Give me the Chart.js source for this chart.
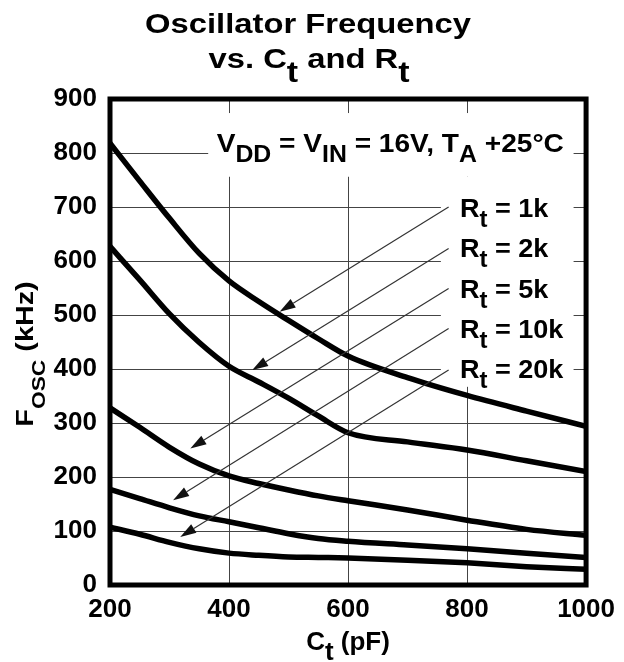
<!DOCTYPE html>
<html>
<head>
<meta charset="utf-8">
<script src="https://cdn.jsdelivr.net/npm/chart.js@4.4.1/dist/chart.umd.min.js"></script>
<style>
  body { margin: 0; background: #fff; }
  #wrap { width: 624px; height: 662px; }
</style>
</head>
<body>
<div id="wrap"><canvas id="oscChart" width="624" height="662"></canvas></div>
<script>
var capPF = [200, 250, 300, 350, 400, 450, 500, 550, 600, 700, 800, 900, 1000];

// Fosc (kHz) for each Rt
var rt1k  = [818, 748, 679, 614, 563, 525, 490, 456, 424, 384, 351, 322, 294];
var rt2k  = [627, 565, 502, 449, 405, 376, 346, 313, 282, 265, 250, 230, 210];
var rt5k  = [328, 292, 255, 224, 202, 188, 176, 165, 156, 139, 120, 103, 92];
var rt10k = [177, 160, 143, 128, 117, 106, 95, 86, 81, 74, 67, 59, 51];
var rt20k = [107, 94, 79, 67, 59, 55, 52, 51, 50, 46, 41, 34, 29];

var rtLabels = ['1k', '2k', '5k', '10k', '20k'];

// axis ticks
var xTicks = [200, 400, 600, 800, 1000];
var yTicks = [0, 100, 200, 300, 400, 500, 600, 700, 800, 900];

var FONT = '"Liberation Sans", Arial, sans-serif';

function toPoints(ys) {
    return ys.map(function(v, i) { return { x: capPF[i], y: v }; });
}

function richWidth(ctx, segs, o) {
    var w = 0;
    segs.forEach(function(s) {
        ctx.font = 'bold ' + (s.sub ? o.sub : o.size) + 'px ' + FONT;
        w += ctx.measureText(s.t).width;
    });
    return w;
}

// text with subscripts, optional stretch and rotation
function drawRich(ctx, segs, x, y, o) {
    ctx.save();
    ctx.translate(x, y);
    if (o.rot) ctx.rotate(o.rot);
    ctx.scale(o.sx || 1, 1);
    ctx.fillStyle = '#000';
    ctx.textBaseline = 'alphabetic';
    ctx.textAlign = 'left';
    var cx = o.align === 'center' ? -richWidth(ctx, segs, o) / 2 : 0;
    segs.forEach(function(s) {
        ctx.font = 'bold ' + (s.sub ? o.sub : o.size) + 'px ' + FONT;
        ctx.fillText(s.t, cx, s.sub ? o.dy : 0);
        cx += ctx.measureText(s.t).width;
    });
    ctx.restore();
}

function arrow(ctx, x1, y1, x2, y2) {
    var ang = Math.atan2(y2 - y1, x2 - x1);
    var len = 16, half = 5;
    var bx = x2 - len * Math.cos(ang), by = y2 - len * Math.sin(ang);
    ctx.save();
    ctx.strokeStyle = '#333';
    ctx.fillStyle = '#111';
    ctx.lineWidth = 1.2;
    ctx.beginPath();
    ctx.moveTo(x1, y1);
    ctx.lineTo(bx, by);
    ctx.stroke();
    ctx.beginPath();
    ctx.moveTo(x2, y2);
    ctx.lineTo(bx + half * Math.sin(ang), by - half * Math.cos(ang));
    ctx.lineTo(bx - half * Math.sin(ang), by + half * Math.cos(ang));
    ctx.closePath();
    ctx.fill();
    ctx.restore();
}

var decorPlugin = {
    id: 'decor',
    beforeDatasetsDraw: function(chart) {
        var ctx = chart.ctx, xs = chart.scales.x, ys = chart.scales.y;
        ctx.save();
        ctx.fillStyle = '#fff';
        // white boxes behind the notes (they break the grid lines)
        var b1 = [365, 979, 874, 756];
        var b2 = [756, 979, 756, 367];
        [b1, b2].forEach(function(b) {
            var l = xs.getPixelForValue(b[0]), r = xs.getPixelForValue(b[1]);
            var t = ys.getPixelForValue(b[2]), bt = ys.getPixelForValue(b[3]);
            ctx.fillRect(l, t, r - l, bt - t);
        });
        ctx.restore();
    },
    afterDatasetsDraw: function(chart) {
        var ctx = chart.ctx, xs = chart.scales.x, ys = chart.scales.y;
        var a = chart.chartArea;

        // frame
        ctx.save();
        ctx.strokeStyle = '#000';
        ctx.lineWidth = 5;
        ctx.strokeRect(a.left, a.top, a.right - a.left, a.bottom - a.top);
        ctx.restore();

        // arrows from the Rt labels to their curves
        var arrowFrom = [700, 623, 549, 475, 398];
        var arrowTo = [[485, 506], [439, 398], [335, 253], [306, 157], [318, 89]];
        arrowTo.forEach(function(p, i) {
            arrow(ctx, xs.getPixelForValue(769), ys.getPixelForValue(arrowFrom[i]),
                  xs.getPixelForValue(p[0]), ys.getPixelForValue(p[1]));
        });

        // Rt labels
        var labelY = [682, 608, 531, 457, 383];
        rtLabels.forEach(function(lab, i) {
            drawRich(ctx, [{ t: 'R' }, { t: 't', sub: true }, { t: ' = ' + lab }],
                     xs.getPixelForValue(788), ys.getPixelForValue(labelY[i]),
                     { size: 26, sub: 23, dy: 10, sx: 1.04 });
        });

        // test conditions
        drawRich(ctx, [
            { t: 'V' }, { t: 'DD', sub: true }, { t: ' = V' }, { t: 'IN', sub: true },
            { t: ' = 16V, T' }, { t: 'A', sub: true }, { t: ' +25\u00B0C' }
        ], xs.getPixelForValue(671), ys.getPixelForValue(802),
           { size: 26, sub: 23, dy: 10, align: 'center', sx: 1.08 });

        // title
        drawRich(ctx, [{ t: 'Oscillator Frequency' }], 308, 33,
                 { size: 28, sub: 28, dy: 0, align: 'center', sx: 1.17 });
        drawRich(ctx, [{ t: 'vs. C' }, { t: 't', sub: true }, { t: ' and R' }, { t: 't', sub: true }],
                 309, 68, { size: 28, sub: 29, dy: 14, align: 'center', sx: 1.17 });

        // axis titles
        drawRich(ctx, [{ t: 'C' }, { t: 't', sub: true }, { t: ' (pF)' }],
                 (a.left + a.right) / 2, 650, { size: 26, sub: 26, dy: 10, align: 'center' });
        drawRich(ctx, [{ t: 'F' }, { t: 'OSC', sub: true }, { t: ' (kHz)' }],
                 33, 354, { size: 24, sub: 19, dy: 12, align: 'center', sx: 1.2, rot: -Math.PI / 2 });
    }
};

var ctx = document.getElementById('oscChart').getContext('2d');

var series = [rt1k, rt2k, rt5k, rt10k, rt20k];

var oscChart = new Chart(ctx, {
    type: 'line',
    data: {
        datasets: series.map(function(s, i) {
            return {
                label: 'Rt = ' + rtLabels[i],
                data: toPoints(s),
                borderColor: '#000',
                borderWidth: 5.5,
                pointRadius: 0,
                fill: false,
                cubicInterpolationMode: 'monotone'
            };
        })
    },
    options: {
        responsive: false,
        animation: false,
        layout: { padding: { left: 0, right: 29, top: 99, bottom: 0 } },
        plugins: {
            legend: { display: false },
            title: { display: false },
            tooltip: { enabled: false }
        },
        scales: {
            x: {
                type: 'linear',
                min: 200,
                max: 1000,
                afterBuildTicks: function(scale) {
                    scale.ticks = xTicks.map(function(v) { return { value: v }; });
                },
                afterFit: function(scale) { scale.height = 77; },
                grid: { color: '#444', lineWidth: 1, drawTicks: false },
                border: { display: false },
                ticks: {
                    color: '#000',
                    padding: 9,
                    maxRotation: 0,
                    font: { family: FONT, size: 26, weight: 'bold' },
                    callback: function(v) { return String(v); }
                }
            },
            y: {
                type: 'linear',
                min: 0,
                max: 900,
                afterBuildTicks: function(scale) {
                    scale.ticks = yTicks.map(function(v) { return { value: v }; });
                },
                afterFit: function(scale) { scale.width = 110; },
                grid: { color: '#444', lineWidth: 1, drawTicks: false },
                border: { display: false },
                ticks: {
                    color: '#000',
                    padding: 13,
                    font: { family: FONT, size: 26, weight: 'bold' },
                    callback: function(v) { return String(v); }
                }
            }
        }
    },
    plugins: [decorPlugin]
});
</script>
</body>
</html>
